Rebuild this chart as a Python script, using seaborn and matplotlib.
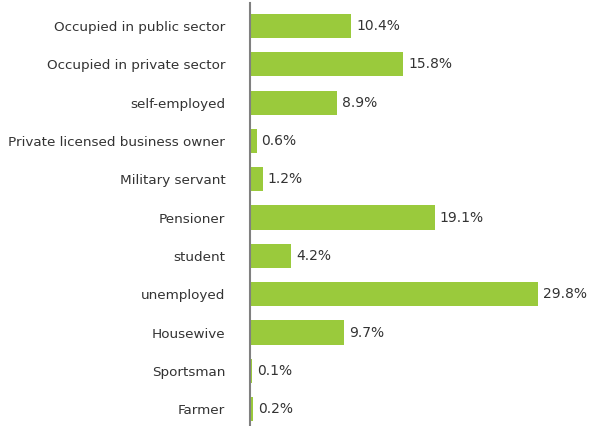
import matplotlib
matplotlib.use("Agg")
import matplotlib.pyplot as plt
import seaborn as sns
import pandas as pd

# Employment status shares (%)
categories = [
    "Occupied in public sector",
    "Occupied in private sector",
    "self-employed",
    "Private licensed business owner",
    "Military servant",
    "Pensioner",
    "student",
    "unemployed",
    "Housewive",
    "Sportsman",
    "Farmer",
]
shares = [10.4, 15.8, 8.9, 0.6, 1.2, 19.1, 4.2, 29.8, 9.7, 0.1, 0.2]

df = pd.DataFrame({"category": categories, "share": shares})

sns.set_style("white")
plt.rcParams["font.family"] = ["DejaVu Sans"]

fig = plt.figure(figsize=(6.05, 4.26), dpi=100)
ax = fig.add_axes([251 / 605, 0, 344 / 605, 423 / 426])

sns.barplot(data=df, x="share", y="category", color="#9aca3c",
            width=0.63, saturation=1, linewidth=0, ax=ax)

for i, v in enumerate(shares):
    ax.text(v + 0.5, i, f"{v:.1f}%", va="center", ha="left",
            fontsize=10, color="#333333")

ax.set_xlim(0, 35.7)
ax.set_ylim(10.44, -0.6)
ax.set_xlabel("")
ax.set_ylabel("")
ax.set_xticks([])
ax.tick_params(axis="y", length=0, pad=17.5, labelsize=9.7, labelcolor="#333333")

for side in ["top", "right", "bottom"]:
    ax.spines[side].set_visible(False)
# axis line sits just left of the bars so the tiny ones stay visible
ax.spines["left"].set_color("#808080")
ax.spines["left"].set_linewidth(1.5)
ax.spines["left"].set_position(("outward", 1))

fig.savefig("out.png", dpi=100)
